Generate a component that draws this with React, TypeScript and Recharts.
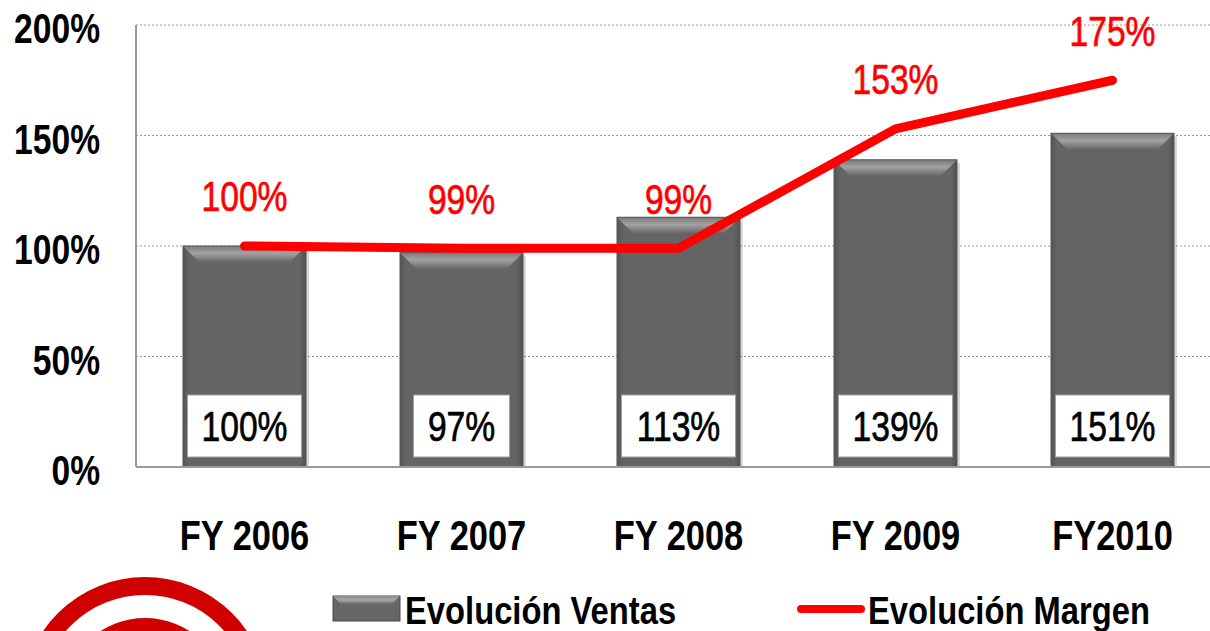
import {
  ComposedChart,
  Bar,
  Line,
  XAxis,
  YAxis,
  CartesianGrid,
  LabelList,
  Legend,
} from "recharts";

const years = ["FY 2006", "FY 2007", "FY 2008", "FY 2009", "FY2010"];
const ventas = [100, 97, 113, 139, 151];
const margen = [100, 99, 99, 153, 175];
const yTicks = [0, 50, 100, 150, 200];
const seriesNames = ["Evolución Ventas", "Evolución Margen"];

const data = years.map((year, i) => ({
  year,
  ventas: ventas[i],
  margen: margen[i],
}));

const FONT = "'Liberation Sans', Arial, sans-serif";
const RED = "#ff0000";

// condensed text, the source looks squeezed horizontally
function Squeezed({ x, y, children, size = 42, weight = 400, fill = "#000", anchor = "middle", sx = 0.8, thick = 0 }: any) {
  return (
    <text
      transform={`translate(${x},${y}) scale(${sx},1)`}
      textAnchor={anchor}
      dominantBaseline="central"
      fontFamily={FONT}
      fontSize={size}
      fontWeight={weight}
      fill={fill}
      stroke={thick ? fill : "none"}
      strokeWidth={thick}
    >
      {children}
    </text>
  );
}

const YTick = ({ x, y, payload }: any) => (
  <Squeezed x={x - 36} y={y + 4} anchor="end" weight={700}>
    {payload.value}%
  </Squeezed>
);

const XTick = ({ x, y, payload }: any) => (
  <Squeezed x={x} y={y + 68} weight={700} sx={0.82}>
    {payload.value}
  </Squeezed>
);

// gray bar with bevelled top edge
const BevelBar = ({ x, y, width, height }: any) => {
  if (!height || height <= 0) return null;
  const b = 16;
  const s = 6;
  return (
    <g>
      <rect x={x + 3} y={y + 3} width={width} height={height - 3} fill="rgba(0,0,0,0.15)" />
      <rect x={x} y={y} width={width} height={height} fill="#646464" />
      <rect x={x} y={y} width={s} height={height} fill="url(#bevelLeft)" />
      <rect x={x + width - s} y={y} width={s} height={height} fill="url(#bevelRight)" />
      <polygon
        points={`${x},${y} ${x + width},${y} ${x + width - b},${y + b} ${x + b},${y + b}`}
        fill="url(#bevelTop)"
      />
      <rect x={x} y={y} width={width} height={height} fill="none" stroke="#555" strokeWidth={1} />
    </g>
  );
};

const BarValue = ({ x, y, width, height, value }: any) => {
  const cx = x + width / 2;
  const bottom = y + height;
  const w = String(value).length >= 3 ? 114 : 96;
  return (
    <g>
      <rect x={cx - w / 2} y={bottom - 72} width={w} height={62} fill="#fff" stroke="#a0a0a0" strokeWidth={1} />
      <Squeezed x={cx} y={bottom - 40} thick={0.7}>
        {value}%
      </Squeezed>
    </g>
  );
};

const LineValue = ({ x, y, value }: any) => (
  <Squeezed x={x} y={y - 49} fill={RED} thick={0.7}>
    {value}%
  </Squeezed>
);

const LegendBox = () => (
  <svg width={890} height={43} style={{ display: "block" }}>
    <defs>
      <linearGradient id="legTop" x1="0" y1="0" x2="0" y2="1">
        <stop offset="0" stopColor="#8a8a8a" />
        <stop offset="0.5" stopColor="#a8a8a8" />
        <stop offset="1" stopColor="#6a6a6a" />
      </linearGradient>
    </defs>
    <rect x={13} y={8} width={67} height={25} fill="#666" stroke="#4d4d4d" />
    <polygon points="13,8 80,8 72,16 21,16" fill="url(#legTop)" />
    <Squeezed x={85} y={22} anchor="start" weight={700} size={39} sx={0.84}>
      {seriesNames[0]}
    </Squeezed>
    <line x1={481} y1={21} x2={541} y2={21} stroke={RED} strokeWidth={8} strokeLinecap="round" />
    <Squeezed x={548} y={22} anchor="start" weight={700} size={39} sx={0.84}>
      {seriesNames[1]}
    </Squeezed>
  </svg>
);

export default function App() {
  return (
    <div style={{ position: "absolute", left: 0, top: 0, width: 1210, height: 631, overflow: "hidden", background: "#fff" }}>
      <ComposedChart
        width={1230}
        height={631}
        data={data}
        margin={{ top: 25, right: 9, left: 0, bottom: 64 }}
      >
        <defs>
          <linearGradient id="bevelTop" x1="0" y1="0" x2="0" y2="1">
            <stop offset="0" stopColor="#7a7a7a" />
            <stop offset="0.45" stopColor="#a2a2a2" />
            <stop offset="1" stopColor="#686868" />
          </linearGradient>
          <linearGradient id="bevelLeft" x1="0" y1="0" x2="1" y2="0">
            <stop offset="0" stopColor="#545454" />
            <stop offset="1" stopColor="#646464" />
          </linearGradient>
          <linearGradient id="bevelRight" x1="0" y1="0" x2="1" y2="0">
            <stop offset="0" stopColor="#646464" />
            <stop offset="1" stopColor="#505050" />
          </linearGradient>
        </defs>
        <CartesianGrid vertical={false} stroke="#9a9a9a" strokeDasharray="2 2" />
        <XAxis
          dataKey="year"
          height={100}
          tickLine={false}
          tickSize={0}
          tickMargin={0}
          axisLine={{ stroke: "#9a9a9a", strokeWidth: 2 }}
          tick={<XTick />}
          interval={0}
        />
        <YAxis
          width={136}
          domain={[0, 200]}
          ticks={yTicks}
          tickLine={false}
          tickSize={0}
          tickMargin={0}
          axisLine={{ stroke: "#9a9a9a", strokeWidth: 2 }}
          tick={<YTick />}
        />
        <Legend
          layout="horizontal"
          verticalAlign="middle"
          align="center"
          content={() => <LegendBox />}
          wrapperStyle={{ position: "absolute", left: 320, top: 588, width: 890, height: 43 }}
        />
        <Bar dataKey="ventas" name={seriesNames[0]} barSize={123} shape={<BevelBar />} isAnimationActive={false}>
          <LabelList dataKey="ventas" content={<BarValue />} />
        </Bar>
        <Line
          dataKey="margen"
          name={seriesNames[1]}
          type="linear"
          stroke={RED}
          strokeWidth={9}
          strokeLinecap="round"
          strokeLinejoin="round"
          dot={false}
          activeDot={false}
          isAnimationActive={false}
        >
          <LabelList dataKey="margen" content={<LineValue />} />
        </Line>
      </ComposedChart>
      <svg width={1210} height={631} style={{ position: "absolute", left: 0, top: 0, pointerEvents: "none" }}>
        <circle cx={145} cy={700} r={114} fill="none" stroke="#d00000" strokeWidth={18} />
        <circle cx={145} cy={700} r={71} fill="none" stroke="#d00000" strokeWidth={22} />
      </svg>
    </div>
  );
}
